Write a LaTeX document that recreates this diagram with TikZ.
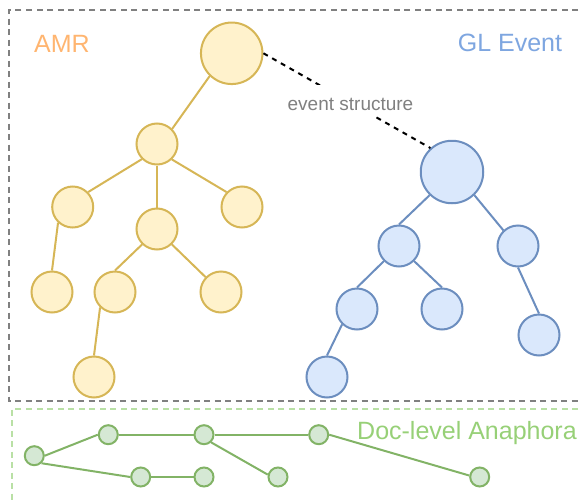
\documentclass[tikz,border=0pt]{standalone}
\usepackage{fontspec}
\setmainfont{Liberation Sans}
\definecolor{yfill}{HTML}{FFF2CC}
\definecolor{ydraw}{HTML}{D6B656}
\definecolor{bfill}{HTML}{DAE8FC}
\definecolor{bdraw}{HTML}{6C8EBF}
\definecolor{gfill}{HTML}{D5E8D4}
\definecolor{gdraw}{HTML}{82B366}
\definecolor{amrtext}{HTML}{FFB570}
\definecolor{gltext}{HTML}{7EA6E0}
\definecolor{doctext}{HTML}{97D077}
\definecolor{graybox}{HTML}{808080}
\definecolor{greenbox}{HTML}{B9E0A5}
\definecolor{labeltext}{HTML}{808080}
\begin{document}
\begin{tikzpicture}[x=1pt,y=-1pt,
  ynode/.style={circle,draw=ydraw,fill=yfill,line width=2pt,minimum size=41pt,inner sep=0pt},
  yroot/.style={ynode,minimum size=61.5pt},
  bnode/.style={circle,draw=bdraw,fill=bfill,line width=2pt,minimum size=41pt,inner sep=0pt},
  broot/.style={bnode,minimum size=62.5pt},
  gnode/.style={circle,draw=gdraw,fill=gfill,line width=2pt,minimum size=19pt,inner sep=0pt},
  yedge/.style={draw=ydraw,line width=2pt},
  bedge/.style={draw=bdraw,line width=2pt},
  gedge/.style={draw=gdraw,line width=2pt},
  title/.style={font=\fontsize{25}{30}\selectfont,anchor=base,inner sep=0pt},
  dashgray/.style={draw=graybox,line width=2pt,dash pattern=on 6pt off 4.5pt},
  dashgreen/.style={draw=greenbox,line width=2pt,dash pattern=on 6pt off 4.5pt},
  evline/.style={draw=black,line width=2pt,dash pattern=on 5pt off 5pt}
]
\useasboundingbox (0,0) rectangle (582,501);
\clip (0,0) rectangle (582,501);

% containers
\draw[dashgray] (620,10) -- (9,10) -- (9,401) -- (620,401);
\draw[dashgreen] (620,409) -- (11.5,409) -- (11.5,520);

% titles
\node[title,text=amrtext] (tamr) at (62,52) {AMR};
\node[title,text=gltext] (tgl) at (510,51) {GL Event};
\node[title,text=doctext] (tdoc) at (467,439) {Doc-level Anaphora};

% AMR tree
\node[yroot] (A0) at (231.7,53.3) {};
\node[ynode] (A1) at (157,144) {};
\node[ynode] (A2) at (72.7,207) {};
\node[ynode] (A3) at (157,229) {};
\node[ynode] (A4) at (242,207) {};
\node[ynode] (A5) at (52,292) {};
\node[ynode] (A6) at (115,292) {};
\node[ynode] (A7) at (221,292) {};
\node[ynode] (A8) at (94,377) {};
\path[yedge] (A0.226) -- (A1.45);
\path[yedge] (A1.225) -- (A2.44);
\path[yedge] (A1.south) -- (A3.north);
\path[yedge] (A1.314) -- (A4.136);
\path[yedge] (A2.227) -- (A5.north);
\path[yedge] (A3.226) -- (A6.north);
\path[yedge] (A3.314) -- (A7.136);
\path[yedge] (A6.226) -- (A8.north);

% GL tree
\node[broot] (G0) at (452,172) {};
\node[bnode] (G1) at (399,246) {};
\node[bnode] (G2) at (518,246) {};
\node[bnode] (G3) at (357,309) {};
\node[bnode] (G4) at (442,309) {};
\node[bnode] (G5) at (539,335) {};
\node[bnode] (G6) at (327,377) {};
\path[bedge] (G0.226) -- (G1.north);
\path[bedge] (G0.314) -- (G2.133);
\path[bedge] (G1.225) -- (G3.north);
\path[bedge] (G1.315) -- (G4.north);
\path[bedge] (G2.south) -- (G5.north);
\path[bedge] (G3.226) -- (G6.north);

% event structure link
\path[evline] (A0.east) -- (G0.132);
\node[fill=white,inner xsep=3pt,inner ysep=0pt,text height=19pt,text depth=0pt,minimum height=31pt,
  text=labeltext,font=\fontsize{19}{23}\selectfont] (lev) at (350.5,100.5) {event structure};

% Doc-level anaphora
\node[gnode] (D1) at (34.3,455.7) {};
\node[gnode] (D2) at (108.3,434.7) {};
\node[gnode] (D3) at (204,434.7) {};
\node[gnode] (D4) at (140.7,477) {};
\node[gnode] (D5) at (204,477) {};
\node[gnode] (D6) at (278,477) {};
\node[gnode] (D7) at (318.7,434.7) {};
\node[gnode] (D8) at (479.7,477) {};
\path[gedge] (D1.east) -- (D2.west);
\path[gedge] (D1.314) -- (D4.west);
\path[gedge] (D2.east) -- (D3.west);
\path[gedge] (D3.east) -- (D7.west);
\path[gedge] (D3.313) -- (D6.167);
\path[gedge] (D4.east) -- (D5.west);
\path[gedge] (D7.east) -- (D8.172);
\end{tikzpicture}
\end{document}
